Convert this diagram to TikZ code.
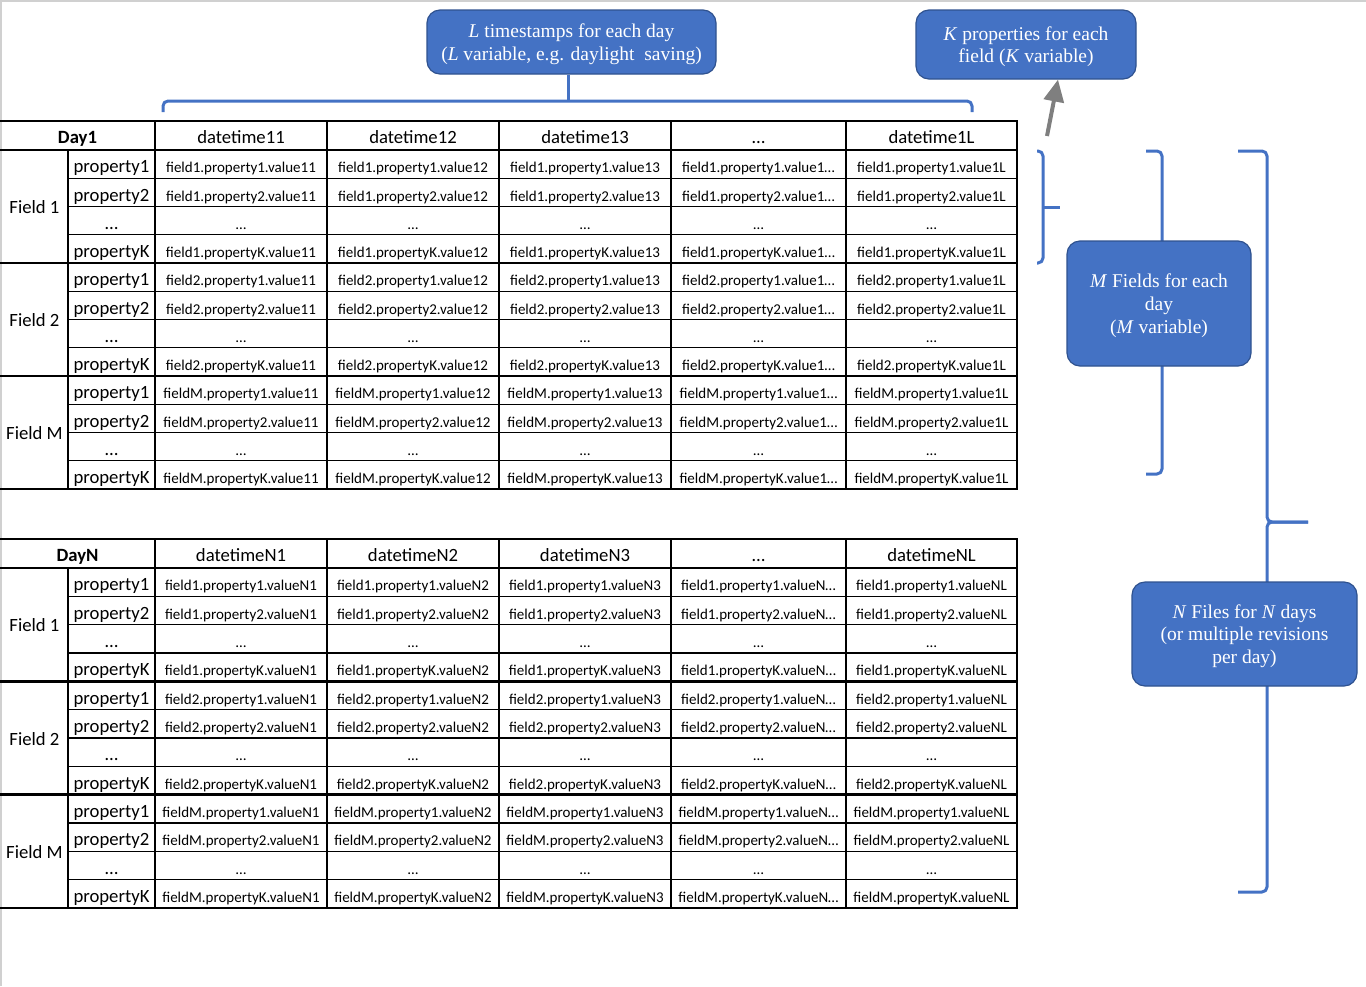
\documentclass[tikz,border=0pt]{standalone}
\usepackage{fontspec}
\setmainfont{Carlito}
\newfontfamily\boxfont{Liberation Serif}
\usetikzlibrary{arrows.meta}
\definecolor{accent}{HTML}{4472C4}
\definecolor{accentdark}{HTML}{2F528F}
\definecolor{arrowgray}{HTML}{7F7F7F}
\definecolor{framegray}{HTML}{D0D0D0}

\newcommand\daytable[5]{%
  \pgfmathsetmacro\dtbottom{#3+12*#4}
  % horizontal rules
  \draw[thickrule] (0,#2) -- (1017,#2);
  \foreach \k in {0,4,8,12} \draw[thickrule] (0,{#3+\k*#4}) -- (1017,{#3+\k*#4});
  \foreach \k in {1,2,3,5,6,7,9,10,11} \draw[thinrule] (68,{#3+\k*#4}) -- (1017,{#3+\k*#4});
  % vertical rules
  \foreach \xx in {327,499,671,846} \draw[thinrule] (\xx,#2) -- (\xx,\dtbottom);
  \draw[thickrule] (155,#2) -- (155,\dtbottom);
  \draw[thickrule] (68,#3) -- (68,\dtbottom);
  \draw[thickrule] (1017,#2) -- (1017,\dtbottom);
  % header
  \node[lab, anchor=base] (#1-day) at (77.5, {(#2+#3)/2+8}) {\bfseries Day#5};
  \foreach \c/\s [count=\cidx] in {241/1,413/2,585/3,758.5/…,931.5/L} {
    \node[lab, anchor=base] (#1-h\cidx) at (\c, {(#2+#3)/2+8}) {\ifnum\cidx=4 …\else datetime#5\s\fi};
  }
  % body
  \foreach \f/\fl [count=\fidx from 0] in {1/Field 1,2/Field 2,M/Field M} {
    \node[lab, anchor=base] (#1-f\fidx) at (34.5, {#3+(4*\fidx+2)*#4+7}) {\fl};
    \foreach \p [count=\pidx from 0] in {1,2,…,K} {
      \node[lab, anchor=base] (#1-f\fidx-p\pidx) at (111.5, {#3+(4*\fidx+\pidx+0.5)*#4+8.8}) {\ifnum\pidx=2 …\else property\p\fi};
      \foreach \c/\s [count=\cidx] in {241/1,413/2,585/3,758.5/…,931.5/L} {
        \node[val, anchor=base] (#1-f\fidx-p\pidx-c\cidx) at (\c, {#3+(4*\fidx+\pidx+0.5)*#4+8.8}) {\ifnum\pidx=2 …\else field\f.property\p.value#5\s\fi};
      }
    }
  }
}
\newcommand\lowerstrut{\rule{0pt}{18pt}}

\begin{document}
\begin{tikzpicture}[x=1pt,y=-1pt,
  thinrule/.style={line width=1.1pt,black},
  thickrule/.style={line width=2.8pt,black,line cap=rect},
  lab/.style={font=\fontsize{18.7}{22}\selectfont, inner sep=0pt},
  val/.style={font=\fontsize{15}{18}\selectfont, inner sep=0pt},
  infobox/.style={draw=accentdark, line width=1.2pt, fill=accent, rounded corners=13pt,
    text=white, font=\boxfont\fontsize{19.5}{22.8}\selectfont, align=center, inner sep=0pt},
  bracket/.style={draw=accent, line width=3pt, line join=round, rounded corners=5pt},
  pointer/.style={draw=arrowgray, line width=4pt, -{Triangle[width=20pt,length=22pt]}},
]
\path[use as bounding box] (0,0) rectangle (1366,986);
\draw[framegray, line width=1.5pt] (0.75,986) -- (0.75,0.75) -- (1366,0.75);

\daytable{ta}{121}{150}{28.25}{1}
\daytable{tb}{539}{568}{28.333}{N}

% braces
\draw[bracket] (163,112) -- (163,101) -- (972,101) -- (972,112);
\draw[bracket] (1037,151) -- (1043,151) -- (1043,263) -- (1037,263);
\draw[bracket, rounded corners=0pt] (1043,207) -- (1060,207);
\draw[bracket] (1146,151) -- (1162,151) -- (1162,474) -- (1146,474);
\draw[bracket] (1238,151) -- (1267,151) -- (1267,522) -- (1308,522);
\draw[bracket] (1308,522) -- (1267,522) -- (1267,892) -- (1238,892);

% boxes
\node[infobox, minimum width=289pt, minimum height=64pt] (lbox) at (571.5,42)
  {\lowerstrut\textit{L} timestamps for each day\\(\textit{L} variable, e.g. daylight\ \ saving)};
\node[infobox, minimum width=220pt, minimum height=69pt] (kbox) at (1026,44.5)
  {\lowerstrut\textit{K} properties for each\\field (\textit{K} variable)};
\node[infobox, minimum width=184pt, minimum height=125pt] (mbox) at (1159,303.5)
  {\lowerstrut\textit{M} Fields for each\\day\\(\textit{M} variable)};
\node[infobox, minimum width=225pt, minimum height=104pt] (nbox) at (1244.5,634)
  {\lowerstrut\textit{N} Files for \textit{N} days\\(or multiple revisions\\per day)};

% connectors
\draw[draw=accent, line width=3pt] ([xshift=-3.5pt]lbox.south) -- ([xshift=-3.5pt]lbox.south |- 0,101);
\coordinate (karrowstart) at (1047,136);
\draw[pointer] (karrowstart) -- ([xshift=32pt]kbox.south);
\end{tikzpicture}
\end{document}
